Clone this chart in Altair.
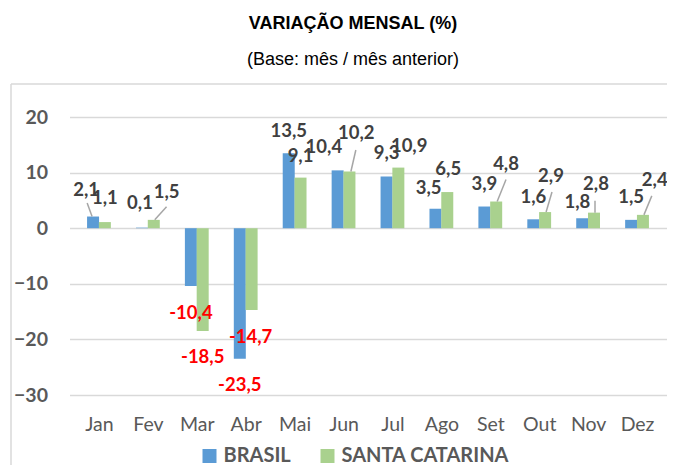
import altair as alt
import pandas as pd

months = ["Jan", "Fev", "Mar", "Abr", "Mai", "Jun", "Jul", "Ago", "Set", "Out", "Nov", "Dez"]
brasil = [2.1, 0.1, -10.4, -23.5, 13.5, 10.4, 9.3, 3.5, 3.9, 1.6, 1.8, 1.5]
santa_catarina = [1.1, 1.5, -18.5, -14.7, 9.1, 10.2, 10.9, 6.5, 4.8, 2.9, 2.8, 2.4]
series_names = ["BRASIL", "SANTA CATARINA"]
colors = ["#5B9BD5", "#A9D18E"]
y_ticks = [-30, -20, -10, 0, 10, 20]

# label placement (pixel offsets from bar end)
brasil_label_dx = [-7, -2, 0, 0, 0, -14, 0, -7, 0, 0, -5, 0]
brasil_label_dy = [-26.5, -25, 27, 26, -22, -23, -23, -21, -23, -22, -16, -23]
sc_label_dx = [0, 13, 0, -1, 0, 7, 11, 1, 10, 6, 2, 12]
sc_label_dy = [-24, -28, 26, 27, -22, -38, -22, -23, -38, -36, -29, -35]

# leader lines (pixel offsets from bar end)
leader_series = ["BRASIL", "SANTA CATARINA", "SANTA CATARINA", "SANTA CATARINA",
                 "SANTA CATARINA", "SANTA CATARINA", "SANTA CATARINA"]
leader_month = [0, 1, 5, 8, 9, 10, 11]
leader_dx0 = [-1, 1, 1.5, 1, 1, 1, 1]
leader_dx1 = [-6, 13, 6.5, 10, 7, 1, 9]
leader_dy1 = [-13.5, -13, -21.5, -22, -20, -12, -19]

W, H = 597, 278
PXU = W / 12.0
PYU = H / 50.0
BAR_HALF = 6.0 / PXU

rows = []
for i, m in enumerate(months):
    for s, vals, ldx, ldy, off in [
        (series_names[0], brasil, brasil_label_dx, brasil_label_dy, -BAR_HALF),
        (series_names[1], santa_catarina, sc_label_dx, sc_label_dy, BAR_HALF),
    ]:
        v = vals[i]
        bx = i + off
        rows.append({
            "month": m, "series": s, "value": v, "bx": bx,
            "label": f"{v:.1f}".replace(".", ","),
            "lx": bx + ldx[i] / PXU, "ly": v - ldy[i] / PYU,
        })
df = pd.DataFrame(rows)

lead_rows = []
for s, mi, dx0, dx1, dy1 in zip(leader_series, leader_month, leader_dx0, leader_dx1, leader_dy1):
    vals = brasil if s == series_names[0] else santa_catarina
    off = -BAR_HALF if s == series_names[0] else BAR_HALF
    v = vals[mi]
    bx = mi + off
    lead_rows.append({"x0": bx + dx0 / PXU, "x1": bx + dx1 / PXU, "y0": v, "y1": v - dy1 / PYU})
lead_df = pd.DataFrame(lead_rows)

label_expr = "[" + ",".join(f"'{m}'" for m in months) + "][datum.value]"

x_scale = alt.Scale(domain=[-0.5, 11.5], nice=False, zero=False)
y_scale = alt.Scale(domain=[-30, 20], nice=False)

FONT = "Lato"
TFONT = "Liberation Sans"

bars = alt.Chart(df).mark_bar(size=12).encode(
    x=alt.X("bx:Q", scale=x_scale,
            axis=alt.Axis(values=list(range(12)), labelExpr=label_expr, title=None,
                          grid=False, ticks=False, domain=False, labelFont=FONT,
                          labelFontSize=19.5, labelColor="#595959", labelPadding=20)),
    y=alt.Y("value:Q", scale=y_scale,
            axis=alt.Axis(values=y_ticks, title=None, ticks=False, domain=False,
                          labelFont=FONT, labelFontSize=19.5, labelFontWeight="bold",
                          labelColor="#595959", labelPadding=22, gridColor="#D9D9D9",
                          gridWidth=1.5)),
    y2=alt.datum(0),
    color=alt.Color("series:N",
                    scale=alt.Scale(domain=series_names, range=colors),
                    legend=alt.Legend(title=None, orient="none", legendX=130, legendY=329,
                                      direction="horizontal", symbolType="square",
                                      symbolSize=196, symbolStrokeWidth=0,
                                      labelFont=FONT, labelFontSize=20, labelLimit=400,
                                      labelFontWeight="bold", labelColor="#595959",
                                      columnPadding=26, labelOffset=4, symbolOffset=0)),
)

leaders = alt.Chart(lead_df).mark_rule(color="#A6A6A6", strokeWidth=1.5).encode(
    x=alt.X("x0:Q", scale=x_scale), x2="x1:Q",
    y=alt.Y("y0:Q", scale=y_scale), y2="y1:Q",
)

labels = alt.Chart(df).mark_text(font=FONT, fontSize=18.5, fontWeight="bold",
                                 baseline="middle", align="center").encode(
    x=alt.X("lx:Q", scale=x_scale),
    y=alt.Y("ly:Q", scale=y_scale),
    text="label:N",
    color=alt.condition("datum.value < 0", alt.value("#FF0000"), alt.value("#404040")),
)

frame_df = pd.DataFrame({"a": [0]})
frame_v = alt.Chart(frame_df).mark_rule(color="#D9D9D9", strokeWidth=1.5).encode(
    x=alt.value(-58.5), y=alt.value(-33), y2=alt.value(420))
frame_h = alt.Chart(frame_df).mark_rule(color="#D9D9D9", strokeWidth=1.5).encode(
    x=alt.value(-58.5), x2=alt.value(700), y=alt.value(-33))

chart = alt.layer(frame_v, frame_h, bars, leaders, labels).properties(
    width=W, height=H,
    autosize=alt.AutoSizeParams(type="none"),
    padding={"left": 61.5, "top": 109, "right": 0, "bottom": 70},
    title=alt.TitleParams(
        text="VARIAÇÃO MENSAL (%)",
        subtitle="(Base: mês / mês anterior)",
        font=TFONT, fontSize=18, fontWeight="bold", color="black",
        subtitleFont=TFONT, subtitleFontSize=18, subtitleFontWeight="normal",
        subtitleColor="black",
        anchor="middle", dx=-15, offset=14, subtitlePadding=18,
    ),
).configure_view(stroke=None)

chart.save("out.html", embed_options={"renderer": "svg", "actions": False})
